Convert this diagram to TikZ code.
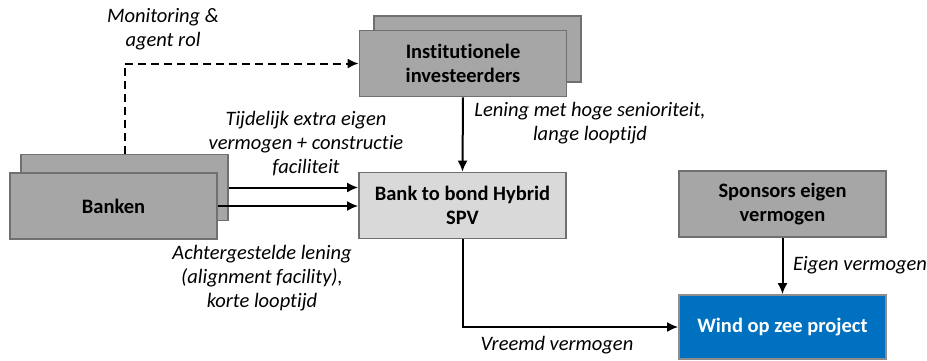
\documentclass[tikz,border=0pt]{standalone}
\usepackage{fontspec}
\setmainfont{Carlito}[Ligatures=NoCommon]
\usepackage{xcolor}
\usetikzlibrary{arrows.meta}
\definecolor{BoxGrey}{HTML}{A6A6A6}
\definecolor{BoxLight}{HTML}{D9D9D9}
\definecolor{BoxBlue}{HTML}{0070C0}
\definecolor{BoxLine}{HTML}{707070}
\tikzset{
  box/.style={draw=BoxLine, fill=BoxGrey, line width=1.7pt, minimum width=207pt,
    minimum height=66pt, align=center, font=\fontsize{20.5}{24}\selectfont\bfseries},
  flow/.style={line width=2pt, -{Latex[length=11pt,width=10pt]}},
  note/.style={align=center, font=\fontsize{20.5}{24}\selectfont\itshape}
}

\begin{document}
\begin{tikzpicture}[x=1pt, y=-1pt]
		\useasboundingbox (0,0) rectangle (927,360);
		
		% Boxes
		\node[box] (bankenB) at (124.5,187.5) {};
		\node[box] (banken) at (113.5,206) {Banken};
		\node[box] (instB) at (477.5,49) {};
		\node[box] (inst) at (463,63.5) {Institutionele\\investeerders};
		\node[box, fill=BoxLight] (bond) at (462.5,205.5) {Bank to bond Hybrid\\SPV};
		\node[box] (spons) at (782.5,204) {Sponsors eigen\\vermogen};
		\node[box, fill=BoxBlue, text=white, minimum height=64pt, draw=BoxLine!80] (wind) at (782.5,327) {Wind op zee project};
		
		% Flows
		\draw[flow, dash pattern=on 8pt off 5pt] (bankenB.north) |- (inst.west);
		\draw[flow] (bankenB.east) -- (bankenB.east -| bond.west);
		\draw[flow] (banken.east) -- (banken.east -| bond.west);
		\draw[flow] (inst.south) -- (bond.north);
		\draw[flow] (bond.south) |- (wind.west);
		\draw[flow] (spons.south) -- (wind.north);
		
		% Labels
		\node[note] (monitor) at (163,29) {Monitoring \&\\agent rol};
		\node[note] (tijdelijk) at (306,144) {Tijdelijk extra eigen\\vermogen + constructie\\faciliteit};
		\node[note] (achter) at (262,278) {Achtergestelde lening\\(alignment facility),\\korte looptijd};
		\node[note] (lening) at (590,123) {Lening met hoge senioriteit,\\lange looptijd};
		\node[note] (vreemd) at (557,345) {Vreemd vermogen};
		\node[note, anchor=west, inner sep=0pt] (eigen) at (793,265) {Eigen vermogen};
	\end{tikzpicture}
\end{document}
